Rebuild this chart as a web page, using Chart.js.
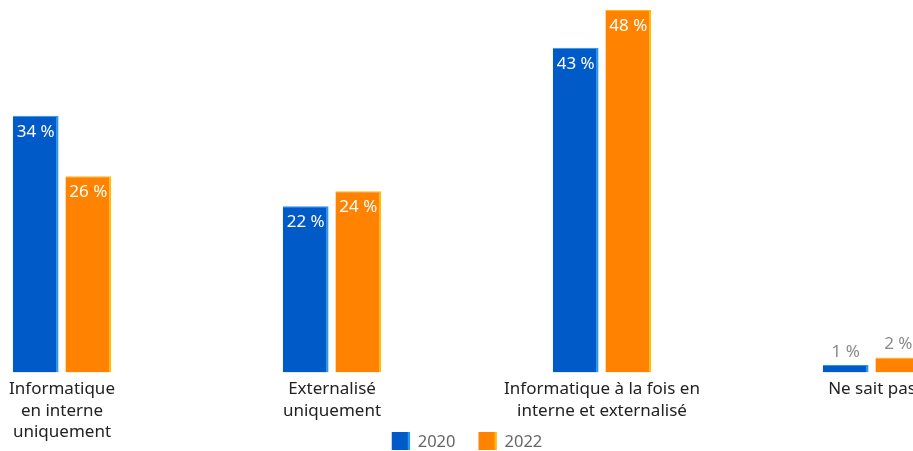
<!DOCTYPE html>
<html>
<head>
<meta charset="utf-8">
<script src="https://cdn.jsdelivr.net/npm/chart.js@4.4.0/dist/chart.umd.min.js"></script>
<style>
	html, body { margin:0; padding:0; overflow:hidden; background:#fff; }
	#wrap { position:absolute; left:-73px; top:0; width:1080px; height:451px; }
</style>
</head>
<body>
<div id="wrap"><canvas id="mycanvas"></canvas></div>
<script>
var categories = [
	['Informatique', 'en interne', 'uniquement'],
	['Externalisé', 'uniquement'],
	['Informatique à la fois en', 'interne et externalisé'],
	['Ne sait pas']
];
var seriesNames = ['2020', '2022'];
var values2020 = [34, 22, 43, 1];
var values2022 = [26, 24, 48, 2];

var fillColors = ['#005ac8', '#ff8200'];
var edgeColors = ['#1e9cf0', '#ffbb00'];
var fontFamily = '"Noto Sans", sans-serif';

// value labels on the bars (white inside, grey above the small ones)
var barLabels = {
	id: 'barLabels',
	afterDatasetsDraw: function(chart) {
		var ctx = chart.ctx;
		ctx.save();
		ctx.font = '17px ' + fontFamily;
		ctx.textAlign = 'center';
		ctx.textBaseline = 'middle';
		chart.data.datasets.forEach(function(ds, i) {
			var meta = chart.getDatasetMeta(i);
			meta.data.forEach(function(bar, j) {
				var v = ds.data[j];
				if (v >= 5) {
					ctx.fillStyle = '#ffffff';
					ctx.fillText(v + ' %', bar.x, bar.y + 16);
				} else {
					ctx.fillStyle = '#8a8a8a';
					ctx.fillText(v + ' %', bar.x, bar.y - 13);
				}
			});
		});
		ctx.restore();
	}
};

// legend drawn by hand so it can sit next to the last label line
var bottomLegend = {
	id: 'bottomLegend',
	afterDraw: function(chart) {
		var ctx = chart.ctx;
		ctx.save();
		ctx.font = '16.5px ' + fontFamily;
		ctx.textBaseline = 'middle';
		var box = 18, gap = 8, itemGap = 23, y = 441;
		var widths = chart.data.datasets.map(function(ds) { return ctx.measureText(ds.label).width; });
		var total = 0;
		widths.forEach(function(w, i) { total += box + gap + w + (i > 0 ? itemGap : 0); });
		var x = chart.width / 2 - total / 2;
		chart.data.datasets.forEach(function(ds, i) {
			ctx.fillStyle = ds.backgroundColor;
			ctx.fillRect(x, y - box / 2, box, box);
			ctx.fillStyle = ds.borderColor;
			ctx.fillRect(x + box - 2, y - box / 2, 2, box);
			ctx.fillStyle = '#666666';
			ctx.textAlign = 'left';
			ctx.fillText(ds.label, x + box + gap, y + 1);
			x += box + gap + widths[i] + itemGap;
		});
		ctx.restore();
	}
};

var chartdata = {
	labels: categories,
	datasets: [
		{
			label: seriesNames[0],
			backgroundColor: fillColors[0],
			borderColor: edgeColors[0],
			borderWidth: {top: 1, right: 2, left: 0, bottom: 0},
			borderSkipped: false,
			data: values2020
		},
		{
			label: seriesNames[1],
			backgroundColor: fillColors[1],
			borderColor: edgeColors[1],
			borderWidth: {top: 1, right: 2, left: 0, bottom: 0},
			borderSkipped: false,
			data: values2022
		}
	]
};

var ctx = document.getElementById('mycanvas');
var bargraph = new Chart(ctx, {
	type: 'bar',
	data: chartdata,
	plugins: [barLabels, bottomLegend],
	options: {
		responsive: true,
		maintainAspectRatio: false,
		animation: false,
		categoryPercentage: 0.39,
		barPercentage: 0.87,
		layout: { padding: { top: 10, left: 0, right: 0, bottom: 2 } },
		plugins: {
			tooltip: { enabled: false },
			legend: { display: false }
		},
		scales: {
			x: {
				grid: { display: false, drawTicks: false },
				border: { display: false },
				ticks: {
					color: '#222222',
					padding: 6,
					maxRotation: 0,
					autoSkip: false,
					font: { family: fontFamily, size: 17, lineHeight: 1.265 }
				}
			},
			y: {
				display: false,
				min: 0,
				max: 48
			}
		}
	}
});
</script>
</body>
</html>
